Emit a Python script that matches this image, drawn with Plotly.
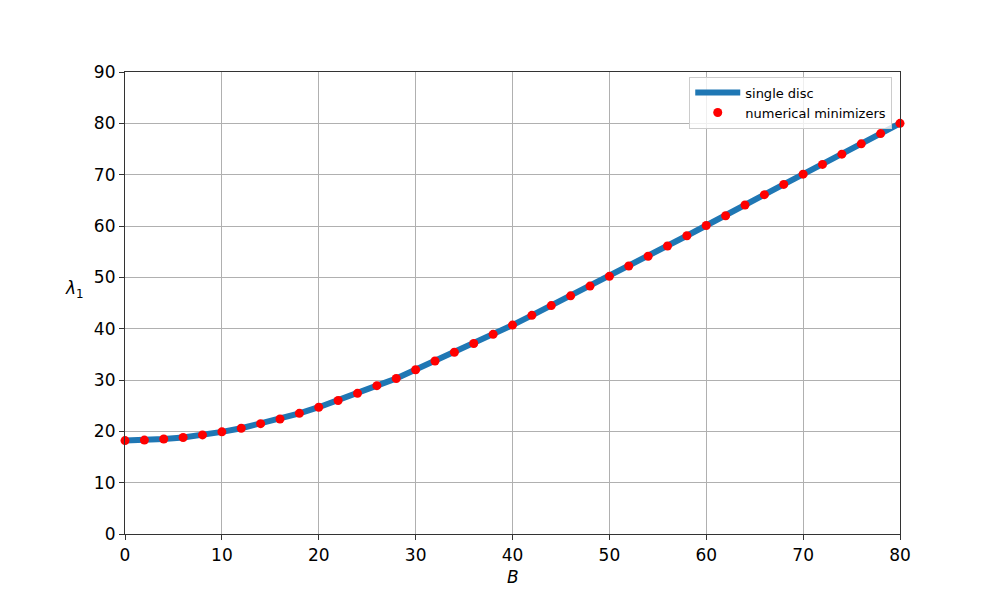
import plotly.graph_objects as go

# magnetic field strength B and first eigenvalue
B_vals = [0, 2, 4, 6, 8, 10, 12, 14, 16, 18, 20, 22, 24, 26, 28, 30, 32, 34, 36, 38, 40,
          42, 44, 46, 48, 50, 52, 54, 56, 58, 60, 62, 64, 66, 68, 70, 72, 74, 76, 78, 80]
lam_disc = [18.2, 18.3, 18.5, 18.8, 19.3, 19.9, 20.6, 21.5, 22.4, 23.5, 24.7, 26.0, 27.4,
            28.9, 30.3, 32.0, 33.7, 35.4, 37.1, 38.9, 40.7, 42.6, 44.5, 46.4, 48.3, 50.2,
            52.2, 54.1, 56.1, 58.1, 60.1, 62.0, 64.1, 66.1, 68.1, 70.1, 72.0, 74.0, 76.0,
            78.0, 80.0]
lam_num = list(lam_disc)

x_ticks = [0, 10, 20, 30, 40, 50, 60, 70, 80]
y_ticks = [0, 10, 20, 30, 40, 50, 60, 70, 80, 90]

fig = go.Figure()
fig.add_trace(go.Scatter(x=B_vals, y=lam_disc, mode="lines", name="single disc",
                         line=dict(color="#1f77b4", width=6)))
fig.add_trace(go.Scatter(x=B_vals, y=lam_num, mode="markers", name="numerical minimizers",
                         marker=dict(color="red", size=9), cliponaxis=False))

axis_common = dict(showline=True, linecolor="#333333", linewidth=1.2, mirror=True,
                   showgrid=True, gridcolor="#b0b0b0", gridwidth=1, zeroline=False,
                   ticks="outside", ticklen=5, tickcolor="#333333",
                   tickfont=dict(family="DejaVu Sans", size=17, color="black"))

fig.update_xaxes(range=[0, 80], tickvals=x_ticks, **axis_common)
fig.update_yaxes(range=[0, 90], tickvals=y_ticks, **axis_common)

fig.update_layout(
    width=1000, height=600,
    margin=dict(l=117, r=108, t=64, b=74),
    paper_bgcolor="white", plot_bgcolor="white",
    showlegend=True,
    legend=dict(x=0.99, y=0.99, xanchor="right", yanchor="top",
                bgcolor="rgba(255,255,255,0.8)", bordercolor="#cccccc", borderwidth=1,
                font=dict(family="DejaVu Sans", size=13, color="black"),
                tracegroupgap=0, itemwidth=45),
    annotations=[
        dict(text="<i>B</i>", xref="paper", yref="paper", x=0.5, y=-0.068,
             xanchor="center", yanchor="top", showarrow=False,
             font=dict(family="DejaVu Sans", size=17, color="black")),
        dict(text="<i>λ</i><sub>1</sub>", xref="paper", yref="paper", x=-0.065, y=0.53,
             xanchor="center", yanchor="middle", showarrow=False,
             font=dict(family="DejaVu Sans", size=17, color="black")),
    ],
)

fig.write_html("out.html")
